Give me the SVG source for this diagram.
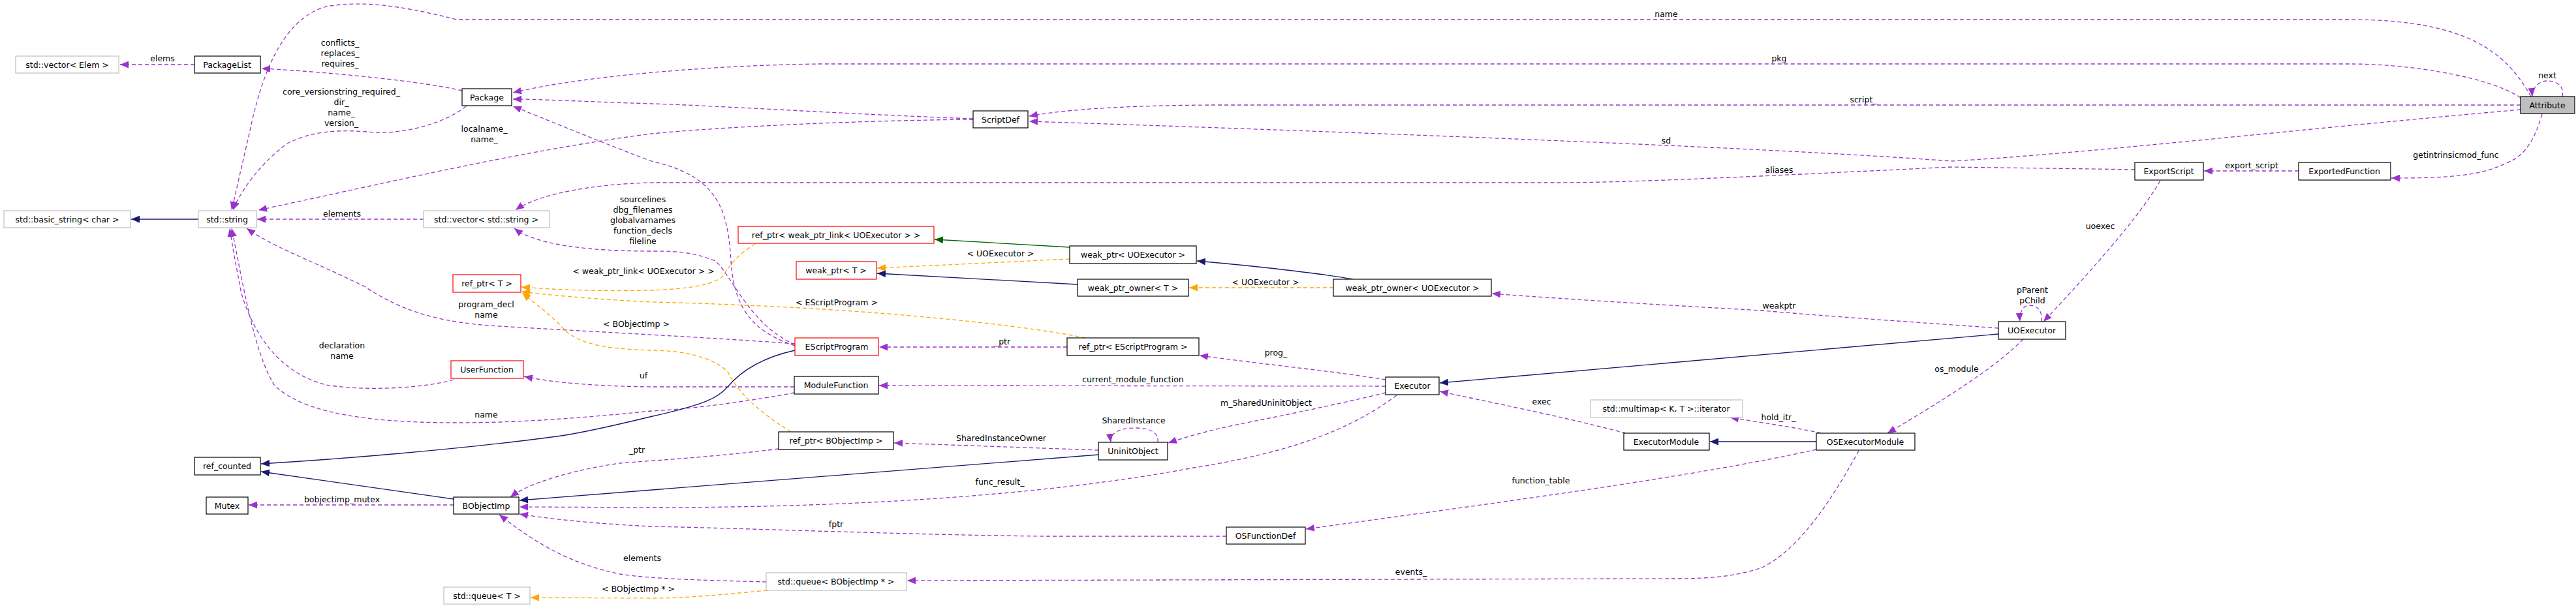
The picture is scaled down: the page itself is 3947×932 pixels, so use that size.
<svg xmlns="http://www.w3.org/2000/svg" width="3947" height="932" viewBox="0 0 3947 932">
<style>
text{font-family:"DejaVu Sans","Liberation Sans",sans-serif;font-size:12.5px;fill:#000;text-anchor:middle}
.n rect{fill:#fff;stroke:#000;stroke-width:1.2}
.r rect{stroke:#ff0000}
.g rect{stroke:#bfbfbf}
.a rect{fill:#bfbfbf}
.e path{fill:none;stroke-width:1.3}
.p{stroke:#9a32cd;stroke-dasharray:6,4;marker-end:url(#mp)}
.b{stroke:#191970;marker-end:url(#mb)}
.o{stroke:#ffa500;stroke-dasharray:6,4;marker-end:url(#mo)}
.d{stroke:#006400;marker-end:url(#md)}
</style>
<defs>
<marker id="mp" viewBox="0 0 12 10" refX="12" refY="5" markerWidth="13" markerHeight="11" markerUnits="userSpaceOnUse" orient="auto"><path d="M0,0L12,5L0,10z" fill="#9a32cd"/></marker>
<marker id="mb" viewBox="0 0 12 10" refX="12" refY="5" markerWidth="13" markerHeight="11" markerUnits="userSpaceOnUse" orient="auto"><path d="M0,0L12,5L0,10z" fill="#191970"/></marker>
<marker id="mo" viewBox="0 0 12 10" refX="12" refY="5" markerWidth="13" markerHeight="11" markerUnits="userSpaceOnUse" orient="auto"><path d="M0,0L12,5L0,10z" fill="#ffa500"/></marker>
<marker id="md" viewBox="0 0 12 10" refX="12" refY="5" markerWidth="13" markerHeight="11" markerUnits="userSpaceOnUse" orient="auto"><path d="M0,0L12,5L0,10z" fill="#006400"/></marker>
</defs>
<rect width="3947" height="932" fill="#fff"/>
<g id="edges" class="e">
<path class="p" d="M3878,148 C3840,80 3780,30 3600,30 L700,30 C620,10 560,0 500,10 C430,30 400,120 383,200 L355,322"/>
<path class="p" d="M3862,150 C3820,120 3700,98 3600,98 L1255,98 C1100,100 900,115 786,142"/>
<path class="p" d="M3862,161 L1850,161 C1700,162 1620,170 1577,178"/>
<path class="p" d="M3862,168 C3500,200 3200,235 2990,247 C2700,225 2000,200 1577,186"/>
<path class="p" d="M3271,260 C3150,258 3050,257 2990,256 C2700,270 2500,280 2383,280 L1000,280 C900,282 820,300 790,322"/>
<path class="p" d="M1491,182 C1300,175 1100,162 998,159 C900,156 830,152 786,152"/>
<path class="p" d="M1491,183 C1300,185 1100,195 998,205 C800,230 550,290 396,322"/>
<path class="p" d="M708,139 C650,125 500,110 401,105"/>
<path class="p" d="M298,99 L184,99"/>
<path class="p" d="M714,163 C680,190 620,205 574,203 C520,198 480,200 440,220 C400,250 370,290 357,322"/>
<path class="b" d="M304,336 L201,336"/>
<path class="p" d="M649,336 L394,336"/>
<path class="p" d="M1218,530 C1160,510 1125,480 1120,400 C1115,320 1100,270 998,247 C900,210 830,180 786,163"/>
<path class="p" d="M1218,528 C1150,500 1120,420 1096,400 C1060,385 1030,385 998,385 C900,385 820,375 788,350"/>
<path class="p" d="M1218,527 C1100,518 900,508 765,500 C680,495 620,480 560,440 C480,400 420,380 378,350"/>
<path class="p" d="M695,582 C650,595 560,600 500,590 C420,570 385,500 370,450 C360,400 355,370 352,350"/>
<path class="p" d="M1217,602 C1150,615 1050,628 998,630 C900,640 800,648 700,648 C550,648 460,630 420,590 C390,540 375,450 355,350"/>
<path class="p" d="M1217,593 L1000,593 C900,592 840,585 803,577"/>
<path class="b" d="M1218,537 C1160,550 1130,575 1115,593 C1100,610 1080,620 1000,638 C930,655 880,665 860,668 C700,690 500,705 400,711"/>
<path class="b" d="M695,765 L400,723"/>
<path class="p" d="M695,774 L381,774"/>
<path class="b" d="M1683,697 C1400,722 1100,745 796,767"/>
<path class="p" d="M1193,688 C1100,700 1000,706 950,710 C880,720 810,740 782,762"/>
<path class="p" d="M2140,606 C2080,650 2000,690 1829,717 C1600,760 1300,778 1000,778 L796,777"/>
<path class="p" d="M1879,822 L1600,822 C1400,820 1150,810 998,807 C900,802 840,795 796,788"/>
<path class="p" d="M1174,892 C1100,890 1000,888 950,880 C880,865 830,840 765,789"/>
<path class="o" d="M1176,905 C1100,912 1050,917 998,917 L813,916"/>
<path class="p" d="M2848,691 C2810,760 2760,840 2700,870 C2650,887 2600,887 2561,887 L1390,890"/>
<path class="p" d="M2783,689 C2600,730 2300,770 2001,811"/>
<path class="b" d="M2783,677 L2620,677"/>
<path class="p" d="M2790,664 C2750,655 2700,648 2651,640"/>
<path class="p" d="M2491,664 C2400,640 2300,620 2206,600"/>
<path class="b" d="M3062,512 L2206,587"/>
<path class="p" d="M3062,503 C2950,495 2800,485 2700,476 C2500,465 2350,455 2286,450"/>
<path class="o" d="M2043,441 L1822,441"/>
<path class="b" d="M2073,428 C2040,422 1950,410 1834,400"/>
<path class="d" d="M1639,379 L1432,367"/>
<path class="o" d="M1639,397 L1344,411"/>
<path class="b" d="M1651,436 L1344,419"/>
<path class="o" d="M1157,374 C1130,390 1115,410 1108,423 C1090,440 1040,443 998,445 C900,447 840,443 799,440"/>
<path class="o" d="M1663,518 C1550,495 1300,470 998,463 C900,458 840,452 799,447"/>
<path class="o" d="M1212,662 C1160,630 1130,600 1115,570 C1090,545 1040,537 998,537 C920,535 880,525 860,500 C840,480 820,465 800,449"/>
<path class="p" d="M1635,532 L1347,532"/>
<path class="p" d="M2123,582 C2050,570 1950,560 1838,545"/>
<path class="p" d="M2123,592 L1347,591"/>
<path class="p" d="M2123,602 C2050,620 1950,640 1900,650 C1850,660 1810,672 1790,679"/>
<path class="p" d="M1774,678 C1776,662 1760,656 1740,656 C1715,656 1700,664 1702,678"/>
<path class="p" d="M1683,690 L1370,679"/>
<path class="p" d="M3128,493 C3130,475 3120,468 3110,468 C3100,468 3094,478 3095,493"/>
<path class="p" d="M3310,277 C3280,330 3200,420 3131,493"/>
<path class="p" d="M3100,520 C3060,560 3000,600 2892,664"/>
<path class="p" d="M3895,175 C3885,210 3870,240 3840,250 C3800,270 3750,273 3664,273"/>
<path class="p" d="M3522,262 L3377,262"/>
<path class="p" d="M3926,148 C3930,130 3915,124 3903,124 C3890,124 3879,135 3880,148"/>
</g>
<g id="labels">
<text x="2553" y="26">name</text>
<text x="2726" y="94">pkg</text>
<text x="2855" y="157">script_</text>
<text x="2553" y="220">sd</text>
<text x="2726" y="265">aliases</text>
<text x="2726" y="473">weakptr</text>
<text x="3903" y="120">next</text>
<text x="3763" y="242">getintrinsicmod_func</text>
<text x="3450" y="258">export_script</text>
<text x="3218" y="351">uoexec</text>
<text x="3114" y="449">pParent</text>
<text x="3114" y="465">pChild</text>
<text x="2998" y="570">os_module</text>
<text x="2362" y="620">exec</text>
<text x="2725" y="644">hold_itr_</text>
<text x="2361" y="741">function_table</text>
<text x="2162" y="881">events_</text>
<text x="1940" y="622">m_SharedUninitObject</text>
<text x="1955" y="545">prog_</text>
<text x="1736" y="586">current_module_function</text>
<text x="1536" y="528">_ptr</text>
<text x="1737" y="649">SharedInstance</text>
<text x="1534" y="676">SharedInstanceOwner</text>
<text x="1532" y="743">func_result_</text>
<text x="1281" y="808">fptr</text>
<text x="1282" y="468">&lt; EScriptProgram &gt;</text>
<text x="1533" y="393">&lt; UOExecutor &gt;</text>
<text x="1939" y="437">&lt; UOExecutor &gt;</text>
<text x="986" y="420">&lt; weak_ptr_link&lt; UOExecutor &gt; &gt;</text>
<text x="985" y="310">sourcelines</text>
<text x="985" y="326">dbg_filenames</text>
<text x="985" y="342">globalvarnames</text>
<text x="985" y="358">function_decls</text>
<text x="985" y="374">fileline</text>
<text x="975" y="501">&lt; BObjectImp &gt;</text>
<text x="986" y="580">uf</text>
<text x="976" y="694">_ptr</text>
<text x="984" y="860">elements</text>
<text x="978" y="907">&lt; BObjectImp * &gt;</text>
<text x="745" y="471">program_decl</text>
<text x="745" y="487">name</text>
<text x="524" y="534">declaration</text>
<text x="524" y="550">name</text>
<text x="745" y="640">name</text>
<text x="524" y="770">bobjectimp_mutex</text>
<text x="249" y="94">elems</text>
<text x="521" y="70">conflicts_</text>
<text x="521" y="86">replaces_</text>
<text x="521" y="102">requires_</text>
<text x="523" y="145">core_versionstring_required_</text>
<text x="523" y="161">dir_</text>
<text x="523" y="177">name_</text>
<text x="523" y="193">version_</text>
<text x="742" y="202">localname_</text>
<text x="742" y="218">name_</text>
<text x="524" y="332">elements</text>
</g>
<g id="Attribute" class="n a"><rect x="3862" y="148" width="83" height="26"/><text x="3903" y="166">Attribute</text></g>
<g id="ExportScript" class="n"><rect x="3271" y="249" width="105" height="27"/><text x="3323" y="267">ExportScript</text></g>
<g id="ExportedFunction" class="n"><rect x="3522" y="249" width="141" height="27"/><text x="3592" y="267">ExportedFunction</text></g>
<g id="UOExecutor" class="n"><rect x="3062" y="493" width="103" height="27"/><text x="3113" y="511">UOExecutor</text></g>
<g id="OSExecutorModule" class="n"><rect x="2783" y="664" width="151" height="26"/><text x="2858" y="682">OSExecutorModule</text></g>
<g id="ExecutorModule" class="n"><rect x="2488" y="664" width="131" height="26"/><text x="2553" y="682">ExecutorModule</text></g>
<g id="multimap_iterator" class="n g"><rect x="2437" y="613" width="233" height="27"/><text x="2553" y="631">std::multimap&lt; K, T &gt;::iterator</text></g>
<g id="Executor" class="n"><rect x="2123" y="578" width="82" height="27"/><text x="2164" y="596">Executor</text></g>
<g id="weak_ptr_owner_UOExecutor" class="n"><rect x="2043" y="428" width="242" height="26"/><text x="2164" y="446">weak_ptr_owner&lt; UOExecutor &gt;</text></g>
<g id="ScriptDef" class="n"><rect x="1491" y="170" width="84" height="26"/><text x="1533" y="188">ScriptDef</text></g>
<g id="ref_ptr_weak_ptr_link" class="n r"><rect x="1131" y="347" width="300" height="26"/><text x="1281" y="365">ref_ptr&lt; weak_ptr_link&lt; UOExecutor &gt; &gt;</text></g>
<g id="weak_ptr_UOExecutor" class="n"><rect x="1639" y="377" width="194" height="27"/><text x="1736" y="395">weak_ptr&lt; UOExecutor &gt;</text></g>
<g id="weak_ptr_T" class="n r"><rect x="1220" y="401" width="123" height="27"/><text x="1281" y="419">weak_ptr&lt; T &gt;</text></g>
<g id="weak_ptr_owner_T" class="n"><rect x="1651" y="428" width="170" height="26"/><text x="1736" y="446">weak_ptr_owner&lt; T &gt;</text></g>
<g id="EScriptProgram" class="n r"><rect x="1218" y="518" width="128" height="27"/><text x="1282" y="536">EScriptProgram</text></g>
<g id="ref_ptr_EScriptProgram" class="n"><rect x="1635" y="518" width="202" height="27"/><text x="1736" y="536">ref_ptr&lt; EScriptProgram &gt;</text></g>
<g id="ModuleFunction" class="n"><rect x="1217" y="577" width="129" height="27"/><text x="1281" y="595">ModuleFunction</text></g>
<g id="ref_ptr_BObjectImp" class="n"><rect x="1193" y="662" width="176" height="27"/><text x="1281" y="680">ref_ptr&lt; BObjectImp &gt;</text></g>
<g id="UninitObject" class="n"><rect x="1683" y="678" width="106" height="27"/><text x="1736" y="696">UninitObject</text></g>
<g id="OSFunctionDef" class="n"><rect x="1879" y="808" width="121" height="26"/><text x="1939" y="826">OSFunctionDef</text></g>
<g id="queue_BObjectImp" class="n g"><rect x="1174" y="878" width="215" height="27"/><text x="1281" y="896">std::queue&lt; BObjectImp * &gt;</text></g>
<g id="vector_Elem" class="n g"><rect x="24" y="86" width="158" height="26"/><text x="103" y="104">std::vector&lt; Elem &gt;</text></g>
<g id="PackageList" class="n"><rect x="298" y="86" width="101" height="26"/><text x="348" y="104">PackageList</text></g>
<g id="Package" class="n"><rect x="708" y="136" width="76" height="26"/><text x="746" y="154">Package</text></g>
<g id="basic_string" class="n g"><rect x="6" y="323" width="194" height="26"/><text x="103" y="341">std::basic_string&lt; char &gt;</text></g>
<g id="std_string" class="n g"><rect x="304" y="323" width="89" height="26"/><text x="348" y="341">std::string</text></g>
<g id="vector_string" class="n g"><rect x="649" y="323" width="193" height="26"/><text x="745" y="341">std::vector&lt; std::string &gt;</text></g>
<g id="ref_ptr_T" class="n r"><rect x="694" y="421" width="104" height="27"/><text x="746" y="439">ref_ptr&lt; T &gt;</text></g>
<g id="UserFunction" class="n r"><rect x="691" y="553" width="111" height="27"/><text x="746" y="571">UserFunction</text></g>
<g id="ref_counted" class="n"><rect x="298" y="701" width="101" height="27"/><text x="348" y="719">ref_counted</text></g>
<g id="Mutex" class="n"><rect x="316" y="762" width="64" height="26"/><text x="348" y="780">Mutex</text></g>
<g id="BObjectImp" class="n"><rect x="695" y="762" width="100" height="26"/><text x="745" y="780">BObjectImp</text></g>
<g id="queue_T" class="n g"><rect x="680" y="900" width="132" height="26"/><text x="746" y="918">std::queue&lt; T &gt;</text></g>
</svg>
